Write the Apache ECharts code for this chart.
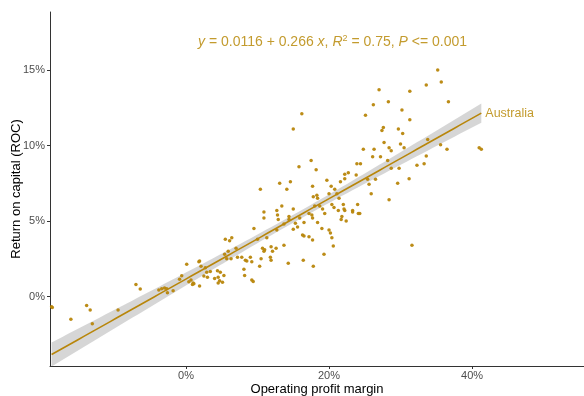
<!DOCTYPE html>
<html>
<head>
<meta charset="utf-8">
<script src="https://cdn.jsdelivr.net/npm/echarts@6/dist/echarts.min.js"></script>
<style>
  html, body { margin: 0; padding: 0; background: #fff; }
  #chart { width: 584px; height: 396px; }
</style>
</head>
<body>
<div id="chart"></div>
<script>
// Operating profit margin (%) for each firm
const margin = [
  -18.8, -18.7, -16.1, -13.9, -13.4, -13.1, -9.5, -7.0, -6.4, -3.8, -3.4, -3.0, -2.7, -2.6, -1.8, -0.9, -0.6, 0.1, 0.4,
  1.0, 1.1, 1.8,
  10.4, 10.9, 10.9, 12.7, 12.9, 9.5, 5.5, 6.1, 6.4, 10.0, 11.3, 10.7, 11.0, 10.9, 11.9, 12.6, 12.1, 5.9, 7.0, 5.4, 5.7, 6.3,
  7.2, 7.8, 8.3, 8.5, 9.0, 9.2, 10.5, 10.3, 11.8, 11.9, 1.9, 2.1, 2.7, 2.9, 3.4, 2.5, 3.0, 4.4, 4.8, 4.0, 4.5, 4.7, 5.3,
  8.1, 8.2, 9.2, 9.4, 0.7, 0.9, 1.9, 4.5, 5.1, 13.1,
  16.2, 15.0, 17.5, 15.8, 18.2, 14.6, 14.1, 17.7, 19.7, 20.3, 20.8, 21.6, 22.2, 22.7, 22.2, 18.3, 17.8, 18.4, 20.0, 21.1,
  21.4, 13.4, 12.8, 14.4, 15.0, 15.9, 16.5, 17.2, 17.6, 17.7, 18.0, 18.7, 19.1, 19.4, 20.4, 20.7, 21.3, 22.0, 22.1, 22.2,
  23.3, 21.7, 22.4, 21.8, 13.7, 14.4, 15.3, 12.7, 15.0, 15.6, 16.3, 16.5, 17.2, 17.7, 18.4, 19.0, 20.0, 20.2, 20.4, 20.6,
  19.3, 13.7, 16.4, 14.3, 17.8,
  27.0, 31.3, 26.2, 28.3, 25.1, 30.2, 31.3, 27.6, 27.4, 29.7, 30.3, 27.7, 28.4, 28.7, 30.0, 30.5, 24.8, 26.3, 26.1, 27.2,
  23.9, 24.4, 23.8, 28.2, 28.7, 29.8, 32.3, 25.4, 26.5, 25.6, 31.2, 29.6, 25.9, 28.4, 23.3, 24.0, 24.1, 24.3, 31.6,
  35.2, 33.6, 35.7, 36.7, 33.8, 35.6, 36.5, 33.6, 33.3, 41.0, 41.3
];
// Return on capital (%) for each firm, same order
const roc = [
  -0.68, -0.72, -1.5, -0.6, -0.9, -1.8, -0.9, 0.8, 0.5, 0.43, 0.52, 0.56, 0.52, 0.25, 0.38, 1.14, 1.38, 2.13, 0.98,
  0.9, 0.85, 2.3,
  7.1, 5.6, 5.2, 5.7, 5.1, 4.5, 3.8, 3.7, 3.9, 3.8, 3.9, 3.2, 3.1, 3.0, 3.3, 3.2, 3.0, 3.0, 3.2, 2.8, 2.5, 2.5,
  2.6, 2.6, 2.4, 2.35, 2.6, 2.3, 2.5, 2.0, 2.6, 2.4, 2.35, 2.0, 1.9, 1.6, 1.65, 1.36, 1.27, 1.7, 1.6, 1.2, 1.27, 1.05, 1.4,
  1.8, 1.4, 1.1, 1.0, 1.1, 0.8, 0.7, 0.9, 0.94, 7.5,
  12.1, 11.1, 9.0, 8.6, 8.4, 7.6, 7.1, 7.3, 7.7, 7.3, 7.1, 7.6, 7.8, 8.2, 8.1, 6.7, 6.6, 6.5, 6.8, 6.8,
  6.5, 6.0, 5.4, 5.3, 5.8, 5.2, 4.9, 5.5, 5.4, 5.2, 6.0, 6.0, 5.8, 5.5, 6.1, 5.9, 5.7, 6.1, 5.8, 5.7,
  5.7, 5.1, 5.0, 5.3, 4.8, 5.1, 4.85, 4.4, 4.45, 4.6, 4.07, 4.0, 3.96, 3.74, 4.9, 4.5, 4.4, 4.2, 3.9, 3.35,
  2.8, 3.4, 2.4, 2.2, 2.0,
  13.7, 13.6, 12.7, 12.9, 12.0, 12.35, 11.7, 11.2, 11.0, 11.1, 10.8, 10.2, 9.85, 9.65, 10.1, 9.85, 9.75, 9.75, 9.25, 9.25,
  8.8, 8.8, 8.05, 9.0, 8.5, 8.5, 8.7, 7.76, 7.76, 7.43, 7.8, 7.5, 6.8, 6.4, 5.6, 6.1, 5.5, 5.5, 3.4,
  15.0, 14.0, 14.2, 12.9, 10.4, 10.05, 9.75, 9.3, 8.8, 9.85, 9.75
];

// Fitted model (fractions): y = intercept + slope * x
const intercept = 0.0116;
const slope = 0.266;
const groupName = 'Australia';

const xTicks = [0, 20, 40];
const yTicks = [0, 5, 10, 15];

const GOLD = '#B8860B';
const TEXT_GOLD = '#C39B2E';

// regression line and 95% confidence band computed from the points
const n = margin.length;
const xbar = margin.reduce((s, v) => s + v, 0) / n;
const sxx = margin.reduce((s, v) => s + (v - xbar) * (v - xbar), 0);
const predict = x => intercept * 100 + slope * x;
let sse = 0;
for (let i = 0; i < n; i++) { const r = roc[i] - predict(margin[i]); sse += r * r; }
const sigma = Math.sqrt(sse / (n - 2));
const tCrit = 1.97;
const xMin = Math.min(...margin), xMax = Math.max(...margin);
const fitLine = [], bandUpper = [], bandLower = [];
const steps = 80;
for (let k = 0; k <= steps; k++) {
  const x = xMin + (xMax - xMin) * k / steps;
  const yhat = predict(x);
  const hw = tCrit * sigma * Math.sqrt(1 / n + (x - xbar) * (x - xbar) / sxx);
  fitLine.push([x, yhat]);
  bandUpper.push([x, yhat + hw]);
  bandLower.push([x, yhat - hw]);
}

const points = margin.map((x, i) => [x, roc[i]]);

const chart = echarts.init(document.getElementById('chart'), null, { renderer: 'canvas' });
const FONT = '"Liberation Sans", Arial, sans-serif';

chart.setOption({
  animation: false,
  backgroundColor: '#fff',
  grid: { left: 50, right: 0, top: 12, bottom: 30, containLabel: false, outerBoundsMode: 'none' },
  xAxis: {
    type: 'value', min: -19.02, max: 55.66,
    name: 'Operating profit margin', nameLocation: 'middle', nameGap: 17, nameMoveOverlap: false,
    nameTextStyle: { color: '#000', fontSize: 13, fontFamily: FONT },
    axisLine: { show: true, onZero: false, lineStyle: { color: '#333', width: 1 } },
    axisTick: { show: true, length: 3, lineStyle: { color: '#333' }, customValues: xTicks },
    axisLabel: { color: '#4D4D4D', fontSize: 11, fontFamily: FONT, margin: 4, customValues: xTicks, formatter: v => v + '%' },
    splitLine: { show: false }
  },
  yAxis: {
    type: 'value', min: -4.6, max: 18.84,
    name: 'Return on capital (ROC)', nameLocation: 'middle', nameGap: 27, nameMoveOverlap: false,
    nameTextStyle: { color: '#000', fontSize: 13, fontFamily: FONT },
    axisLine: { show: true, onZero: false, lineStyle: { color: '#333', width: 1 } },
    axisTick: { show: true, length: 3, lineStyle: { color: '#333' }, customValues: yTicks },
    axisLabel: { color: '#4D4D4D', fontSize: 11, fontFamily: FONT, margin: 5, customValues: yTicks, formatter: v => v + '%' },
    splitLine: { show: false }
  },
  series: [
    {
      type: 'custom',
      silent: true,
      z: 1,
      data: [0],
      renderItem: (params, api) => {
        const pts = bandUpper.map(p => api.coord(p)).concat(bandLower.slice().reverse().map(p => api.coord(p)));
        return { type: 'polygon', shape: { points: pts }, style: { fill: 'rgba(153,153,153,0.4)' } };
      }
    },
    {
      type: 'scatter',
      data: points,
      symbolSize: 3.5,
      z: 2,
      itemStyle: { color: GOLD, opacity: 0.95 }
    },
    {
      type: 'line',
      data: fitLine,
      showSymbol: false,
      z: 3,
      lineStyle: { color: GOLD, width: 1.6 },
      endLabel: { show: true, formatter: groupName, color: TEXT_GOLD, fontSize: 12.5, fontFamily: FONT, distance: 4 }
    }
  ],
  graphic: [
    {
      type: 'text',
      left: 198, top: 34,
      style: {
        text: '{i|y} = 0.0116 + 0.266 {i|x}, {i|R}{s|2} = 0.75, {i|P} <= 0.001',
        fill: TEXT_GOLD,
        font: '14px ' + FONT,
        rich: {
          i: { fontStyle: 'italic', fontSize: 14, fill: TEXT_GOLD, fontFamily: FONT },
          s: { fontSize: 9, fill: TEXT_GOLD, fontFamily: FONT, verticalAlign: 'top', padding: [0, 0, 7, 0] }
        }
      }
    }
  ]
});
</script>
</body>
</html>
